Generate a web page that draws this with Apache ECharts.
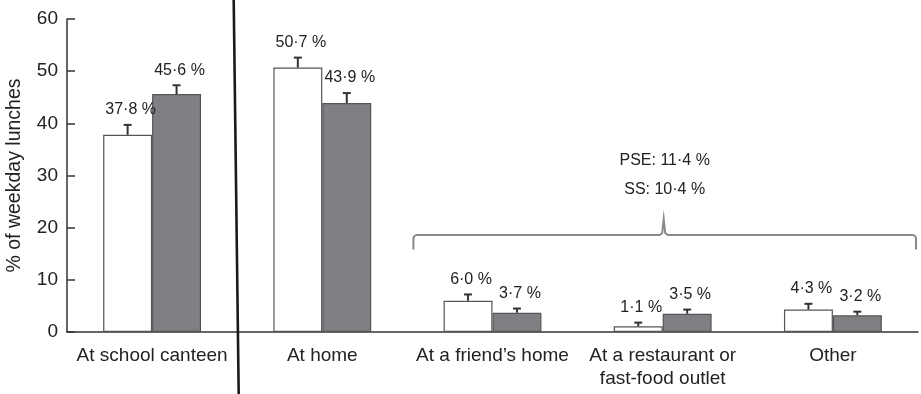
<!DOCTYPE html>
<html><head><meta charset="utf-8">
<script src="https://cdn.jsdelivr.net/npm/echarts@6/dist/echarts.min.js"></script>
<style>html,body{margin:0;padding:0;background:#fff}#c{width:921px;height:394px}</style>
</head><body><div id="c"></div>
<script>
var categories = ['At school canteen', 'At home', 'At a friend\u2019s home', 'At a restaurant or\nfast-food outlet', 'Other'];
var pseValues = [37.8, 50.7, 6.0, 1.1, 4.3];
var ssValues = [45.6, 43.9, 3.7, 3.5, 3.2];
var pseErr = [1.9, 1.9, 1.2, 0.7, 1.1];
var ssErr = [1.7, 1.9, 0.8, 0.8, 0.7];
var yTicks = [0, 10, 20, 30, 40, 50, 60];
var bracketTexts = ['PSE: 11\u00b74 %', 'SS: 10\u00b74 %'];

var FONT = '"Liberation Sans", Arial, Helvetica, sans-serif';
var GAP = 0.425;
function fmt(v){ return v.toFixed(1).replace('.', '\u00b7') + ' %'; }

var chart = echarts.init(document.getElementById('c'));

function errSeries(idx, vals, errs) {
  return {
    type: 'custom',
    z: 5,
    data: vals.map(function(v, i){ return [i, v, v + errs[i]]; }),
    renderItem: function(params, api) {
      var i = api.value(0);
      var catW = api.size([1, 0])[0];
      var bw = catW * (1 - GAP) / 2;
      var off = (idx === 0 ? -1 : 1) * bw / 2;
      var base = api.coord([i, api.value(1)]);
      var top = api.coord([i, api.value(2)]);
      var x = base[0] + off;
      var st = {stroke: '#333', lineWidth: 2};
      return {
        type: 'group',
        children: [
          {type: 'line', shape: {x1: x, y1: base[1], x2: x, y2: top[1]}, style: st},
          {type: 'line', shape: {x1: x - 4, y1: top[1], x2: x + 4, y2: top[1]}, style: st},
          {type: 'text', style: {text: fmt(api.value(1)), x: x + 3, y: top[1] - 7,
            textAlign: 'center', textVerticalAlign: 'bottom', fill: '#222',
            font: '16px ' + FONT}}
        ]
      };
    }
  };
}

chart.setOption({
  animation: false,
  grid: {left: 67, right: 3, top: 19, bottom: 62, containLabel: false, outerBoundsMode: 'none'},
  xAxis: {
    type: 'category', data: categories,
    axisLine: {lineStyle: {color: '#333', width: 1.5}},
    axisTick: {inside: true, length: 5, lineStyle: {color: '#333', width: 1.5}},
    axisLabel: {interval: 0, color: '#222', fontSize: 19, fontFamily: FONT, margin: 12, lineHeight: 23}
  },
  yAxis: {
    type: 'value', min: 0, max: 60, interval: 10,
    name: '% of weekday lunches', nameLocation: 'middle', nameGap: 42,
    nameTextStyle: {color: '#222', fontSize: 19.5, fontFamily: FONT},
    axisLine: {show: true, lineStyle: {color: '#333', width: 1.5}},
    axisTick: {show: true, inside: true, length: 8, lineStyle: {color: '#333', width: 1.5}},
    axisLabel: {color: '#222', fontSize: 19, fontFamily: FONT, margin: 9,
      formatter: function(v){ return yTicks.indexOf(v) >= 0 ? String(v) : ''; }},
    splitLine: {show: false}
  },
  series: [
    {type: 'bar', name: 'PSE', data: pseValues, barGap: '0%', barCategoryGap: (GAP * 100) + '%',
      itemStyle: {color: '#ffffff', borderColor: '#555', borderWidth: 1.2}},
    {type: 'bar', name: 'SS', data: ssValues, barGap: '0%', barCategoryGap: (GAP * 100) + '%',
      itemStyle: {color: '#7f8084', borderColor: '#555', borderWidth: 1.2}},
    errSeries(0, pseValues, pseErr),
    errSeries(1, ssValues, ssErr)
  ]
});

// annotations computed from the chart's own scales
var c0 = chart.convertToPixel({xAxisIndex: 0}, 0);
var c1 = chart.convertToPixel({xAxisIndex: 0}, 1);
var c2 = chart.convertToPixel({xAxisIndex: 0}, 2);
var c3 = chart.convertToPixel({xAxisIndex: 0}, 3);
var c4 = chart.convertToPixel({xAxisIndex: 0}, 4);
var cw = c1 - c0;
var sepX = (c0 + c1) / 2;
var L = (c1 + c2) / 2 + 6, R = c4 + cw / 2 - 2, P = c3 + 1;
var yH = chart.convertToPixel({yAxisIndex: 0}, 18.6);
var yE = chart.convertToPixel({yAxisIndex: 0}, 15.8);
var yP = chart.convertToPixel({yAxisIndex: 0}, 21.7);
var pts = [[L, yE], [L, yH + 3], [L + 1, yH + 1], [L + 3, yH], [P - 4, yH], [P - 1.5, yH - 2],
  [P, yP], [P + 1.5, yH - 2], [P + 4, yH], [R - 3, yH], [R - 1, yH + 1], [R, yH + 3], [R, yE]];
var t1y = chart.convertToPixel({yAxisIndex: 0}, 32.8);
var t2y = chart.convertToPixel({yAxisIndex: 0}, 27.3);

chart.setOption({
  graphic: [
    {type: 'line', z: 10, shape: {x1: sepX - 3.5, y1: 0, x2: sepX + 1.5, y2: 394},
      style: {stroke: '#1a1a1a', lineWidth: 2.6}},
    {type: 'polyline', z: 10, shape: {points: pts},
      style: {stroke: '#8a8a8a', lineWidth: 2, fill: null}},
    {type: 'text', z: 10, style: {text: bracketTexts[0], x: P + 1, y: t1y, textAlign: 'center',
      textVerticalAlign: 'middle', fill: '#222', font: '16px ' + FONT}},
    {type: 'text', z: 10, style: {text: bracketTexts[1], x: P + 1, y: t2y, textAlign: 'center',
      textVerticalAlign: 'middle', fill: '#222', font: '16px ' + FONT}}
  ]
});
</script></body></html>
